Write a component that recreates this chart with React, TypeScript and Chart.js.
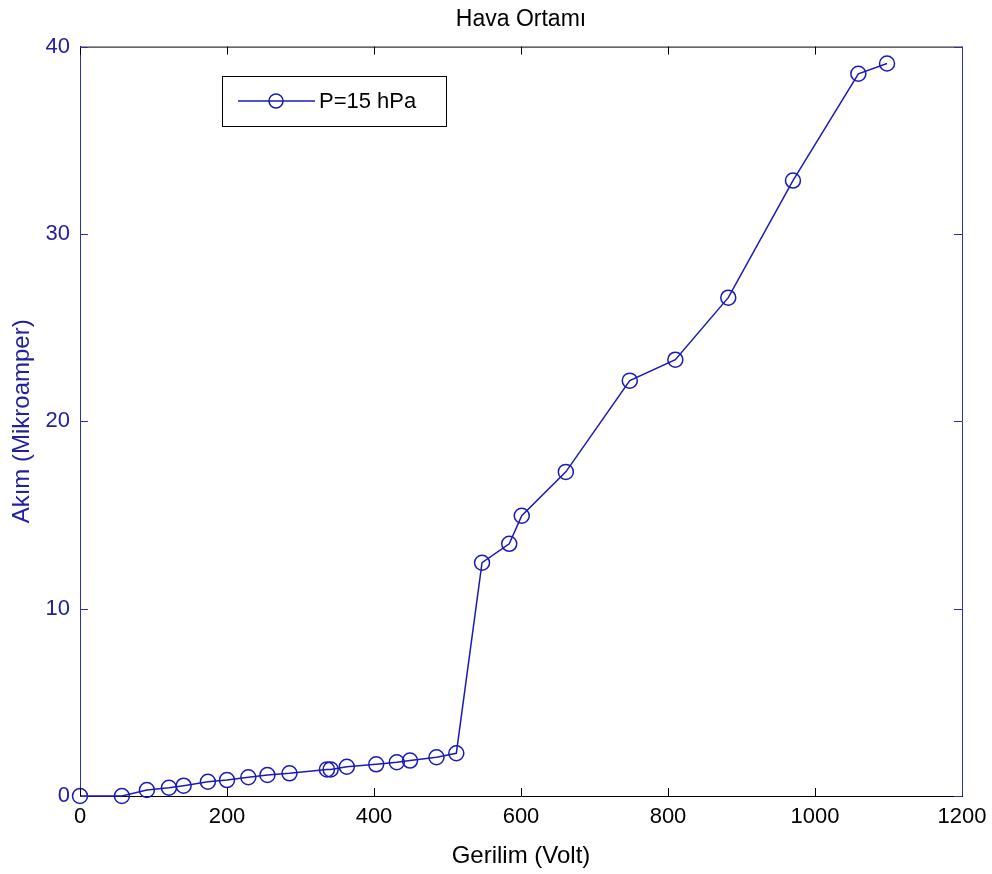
import React, { useEffect, useRef } from "react";
import { Chart, registerables } from "chart.js";

Chart.register(...registerables);

const voltage = [0, 57, 91, 121, 141, 174, 200, 229, 255, 285, 336, 341, 363, 403, 431, 449, 485, 512, 547, 584, 601, 661, 748, 810, 882, 970, 1059, 1098];
const current = [0, 0, 0.32, 0.44, 0.55, 0.76, 0.85, 1.0, 1.12, 1.21, 1.42, 1.42, 1.56, 1.69, 1.8, 1.89, 2.07, 2.28, 12.45, 13.46, 14.96, 17.3, 22.17, 23.29, 26.6, 32.85, 38.55, 39.1];
const xTicks = [0, 200, 400, 600, 800, 1000, 1200];
const yTicks = [0, 10, 20, 30, 40];
const seriesLabel = "P=15 hPa";
const titleText = "Hava Ortamı";
const xTitle = "Gerilim (Volt)";
const yTitle = "Akım (Mikroamper)";

const FONT = "'Liberation Sans', Arial, Helvetica, sans-serif";
const BLUE = "#1a1ab8";
const AXBLUE = "#3030a8";

const framePlugin = {
  id: "frame",
  afterDraw(chart: any) {
    const { ctx, chartArea } = chart;
    const { left, right, top, bottom } = chartArea;
    const xs = chart.scales.x;
    const ys = chart.scales.y;
    ctx.save();
    ctx.lineWidth = 1;
    ctx.strokeStyle = "#000";
    ctx.beginPath();
    ctx.moveTo(left, top + 0.5);
    ctx.lineTo(right, top + 0.5);
    ctx.stroke();
    const tl = 8;
    xTicks.forEach((v) => {
      const px = Math.round(xs.getPixelForValue(v)) + 0.5;
      ctx.beginPath();
      ctx.moveTo(px, bottom);
      ctx.lineTo(px, bottom - tl);
      ctx.moveTo(px, top);
      ctx.lineTo(px, top + tl);
      ctx.stroke();
    });
    ctx.strokeStyle = AXBLUE;
    ctx.beginPath();
    ctx.moveTo(right + 0.5, top);
    ctx.lineTo(right + 0.5, bottom);
    ctx.stroke();
    yTicks.forEach((v) => {
      const py = Math.round(ys.getPixelForValue(v)) + 0.5;
      ctx.beginPath();
      ctx.moveTo(left, py);
      ctx.lineTo(left + tl, py);
      ctx.moveTo(right, py);
      ctx.lineTo(right - tl, py);
      ctx.stroke();
    });
    // legend
    const lx = 222, ly = 76, lw = 224, lh = 50;
    ctx.fillStyle = "#fff";
    ctx.fillRect(lx, ly, lw, lh);
    ctx.strokeStyle = "#000";
    ctx.strokeRect(lx + 0.5, ly + 0.5, lw, lh);
    const cy = ly + lh / 2;
    ctx.strokeStyle = BLUE;
    ctx.lineWidth = 1.5;
    ctx.beginPath();
    ctx.moveTo(238, cy);
    ctx.lineTo(315, cy);
    ctx.stroke();
    ctx.beginPath();
    ctx.arc(276, cy, 7, 0, Math.PI * 2);
    ctx.stroke();
    ctx.fillStyle = "#000";
    ctx.font = `22px ${FONT}`;
    ctx.textBaseline = "middle";
    ctx.textAlign = "left";
    ctx.fillText(chart.data.datasets[0].label, 319, cy + 1);
    ctx.restore();
  },
};

export default function App() {
  const ref = useRef<HTMLCanvasElement | null>(null);
  useEffect(() => {
    document.body.style.margin = "0";
    const canvas = ref.current!;
    const chart = new Chart(canvas, {
      type: "line",
      data: {
        datasets: [
          {
            label: seriesLabel,
            data: voltage.map((v, i) => ({ x: v, y: current[i] })),
            borderColor: BLUE,
            borderWidth: 1.5,
            pointRadius: 7.5,
            pointHoverRadius: 7.5,
            pointBorderWidth: 1.5,
            pointBorderColor: BLUE,
            pointBackgroundColor: "rgba(0,0,0,0)",
            fill: false,
            tension: 0,
            clip: false as any,
          },
        ],
      },
      plugins: [framePlugin],
      options: {
        animation: false,
        responsive: false,
        devicePixelRatio: 1,
        layout: { padding: 0 },
        plugins: {
          legend: { display: false },
          tooltip: { enabled: false },
          title: {
            display: true,
            text: titleText,
            fullSize: false,
            color: "#000",
            font: { family: FONT, size: 23, weight: "normal" },
            padding: { top: 6, bottom: 13 },
          },
        },
        scales: {
          x: {
            type: "linear",
            min: 0,
            max: 1200,
            afterBuildTicks: (s: any) => {
              s.ticks = xTicks.map((v) => ({ value: v }));
            },
            afterFit: (s: any) => {
              s.height = 78;
              s.paddingLeft = 0;
              s.paddingRight = 0;
            },
            grid: { display: false, drawTicks: false, tickLength: 0 },
            border: { display: true, color: "#000", width: 1 },
            ticks: {
              color: "#000",
              padding: 8,
              maxRotation: 0,
              autoSkip: false,
              font: { family: FONT, size: 22 },
              callback: (v: any) => String(v),
            },
            title: {
              display: true,
              text: xTitle,
              color: "#000",
              font: { family: FONT, size: 24 },
              padding: { top: 0, bottom: 3 },
            },
          },
          y: {
            type: "linear",
            min: 0,
            max: 40,
            afterBuildTicks: (s: any) => {
              s.ticks = yTicks.map((v) => ({ value: v }));
            },
            afterFit: (s: any) => {
              s.width = 80;
            },
            grid: { display: false, drawTicks: false, tickLength: 0 },
            border: { display: true, color: AXBLUE, width: 1 },
            ticks: {
              color: "#2020a0",
              padding: 10,
              autoSkip: false,
              font: { family: FONT, size: 22 },
              callback: (v: any) => String(v),
            },
            title: {
              display: true,
              text: yTitle,
              color: "#2020a0",
              font: { family: FONT, size: 24 },
              padding: { top: 8, bottom: 0 },
            },
          },
          y2: {
            type: "linear",
            position: "right",
            min: 0,
            max: 40,
            afterFit: (s: any) => {
              s.width = 30;
            },
            grid: { display: false, drawTicks: false },
            border: { display: false },
            ticks: { display: false },
          },
        },
      },
    });
    return () => chart.destroy();
  }, []);
  return (
    <div style={{ width: 992, height: 874, background: "#fff" }}>
      <canvas ref={ref} width={992} height={874} style={{ display: "block" }} />
    </div>
  );
}
